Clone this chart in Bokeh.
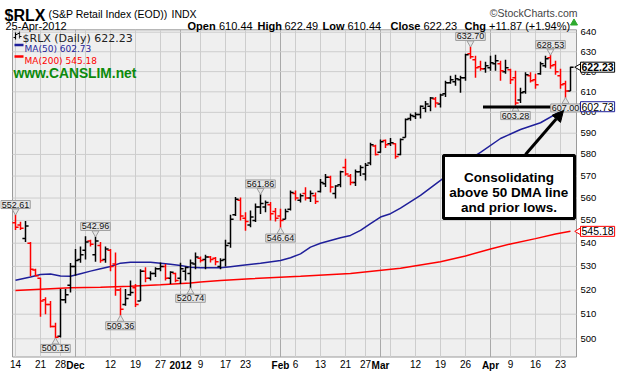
import math
from bokeh.plotting import figure
from bokeh.models import (ColumnDataSource, FixedTicker, Range1d, Label, LinearAxis,
                          Arrow, NormalHead, PrintfTickFormatter)
from bokeh.embed import file_html
from bokeh.resources import INLINE

# ---------------- data ----------------
nov = [14, 15, 16, 17, 18, 21, 22, 23, 25, 28, 29, 30]
dec = [1, 2, 5, 6, 7, 8, 9, 12, 13, 14, 15, 16, 19, 20, 21, 22, 23, 27, 28, 29, 30]
jan = [3, 4, 5, 6, 9, 10, 11, 12, 13, 17, 18, 19, 20, 23, 24, 25, 26, 27, 30, 31]
feb = [1, 2, 3, 6, 7, 8, 9, 10, 13, 14, 15, 16, 17, 21, 22, 23, 24, 27, 28, 29]
mar = [1, 2, 5, 6, 7, 8, 9, 12, 13, 14, 15, 16, 19, 20, 21, 22, 23, 26, 27, 28, 29, 30]
apr = [2, 3, 4, 5, 9, 10, 11, 12, 13, 16, 17, 18, 19, 20, 23, 24, 25]
dates = (["2011-11-%02d" % d for d in nov] + ["2011-12-%02d" % d for d in dec] +
         ["2012-01-%02d" % d for d in jan] + ["2012-02-%02d" % d for d in feb] +
         ["2012-03-%02d" % d for d in mar] + ["2012-04-%02d" % d for d in apr])

opens = [549, 548, 542, 540, 528.5, 525, 516, 514, 505, 501,
         516, 522, 530, 533, 537, 541, 535, 539, 533, 537,
         531, 520, 514, 518, 521, 515.5, 528, 525, 527, 529,
         530, 525, 527, 525, 528, 527, 531, 533.5, 533, 534,
         533.5, 530, 533, 540, 552.5, 559, 551, 548, 550, 556,
         556, 557, 554, 552, 550.5, 555, 562, 559, 562, 560,
         561, 563, 566.5, 569.5, 562, 566, 574, 570, 567, 572,
         571, 576, 584, 581, 586.5, 585, 585, 580, 588, 597,
         598, 599, 602, 603, 606.5, 604, 609, 614.5, 615, 616,
         617, 629, 626, 622.5, 621.5, 622, 624, 624, 620, 621,
         617, 606, 610, 618, 616, 619, 623, 627, 623.5, 618,
         614, 610.44]
highs = [552.61, 549.4, 549.8, 540.5, 529, 525.2, 517, 515.4, 506.5, 520.5,
         520.5, 531.5, 537.5, 538.6, 543, 541.5, 542.96, 540.5, 538.6, 537.5,
         536, 521, 520.5, 524, 522.6, 528.8, 529.6, 528, 529.6, 531.7,
         531, 528, 527.3, 531.6, 530, 533, 536, 534.3, 535, 534.5,
         534, 533.5, 541.5, 552.5, 560.5, 560.2, 553.6, 554.4, 557.5, 561.86,
         558.9, 558.2, 555.5, 555.2, 555.2, 563.4, 563.4, 562, 564.9, 563.4,
         562.5, 568.6, 570.9, 570.2, 565.8, 572.5, 578, 570.9, 573, 575,
         576, 585.5, 584.5, 587, 587, 587.7, 585.3, 587.5, 597, 599.5,
         600, 603.3, 605.5, 607.5, 607.5, 609, 615.5, 618, 618.5, 618,
         629, 632.70, 628, 625.5, 625, 628, 628.5, 625.5, 626, 621.5,
         620.5, 612, 619.7, 619.7, 619, 625, 628, 628.53, 625.5, 621.5,
         615.5, 622.49]
lows = [545.8, 545.8, 540.5, 525.8, 525.8, 509, 510, 504.6, 500.15, 500.5,
        514.5, 519, 526, 531.6, 533, 538.6, 532, 531.6, 531.6, 528,
        517.6, 509.36, 513.5, 517.6, 513, 515.5, 523.3, 524, 525.5, 528,
        524, 522.6, 523.3, 522.6, 524, 520.74, 528.8, 531.7, 528.8, 531.7,
        530.5, 528.8, 530, 538, 552, 550, 545.5, 547, 549.3, 552.9,
        553.6, 550, 549.5, 546.64, 550.5, 554.4, 558.9, 558, 558.9, 558.2,
        557.3, 562.5, 565, 562.5, 559.8, 564.9, 570.2, 565.8, 565.5, 570,
        568, 575, 579.5, 580.8, 583, 584, 578, 579.6, 588, 596,
        596.8, 597, 600, 600.5, 602.3, 602.4, 607.5, 614, 613, 609.5,
        615.5, 626.5, 617, 620.5, 619.5, 620.5, 620.5, 615.5, 619, 613.9,
        603.28, 604.5, 609, 614.6, 611.5, 618.5, 622, 621.5, 618.5, 611.5,
        607.0, 610.44]
closes = [547, 546.5, 547.5, 528.8, 526, 515.5, 514, 505, 500.6, 516,
          518, 530, 532.5, 535, 540.5, 539.5, 541, 532.5, 537.5, 530,
          520, 512, 516.5, 519, 514, 528, 525, 527, 529, 530,
          525, 527.5, 524, 529, 529.5, 531.5, 534, 532.5, 534, 533,
          532, 532.5, 539, 550.5, 559.5, 552, 549.5, 551.5, 556, 557.5,
          558, 553, 551, 550, 554, 562.5, 560, 561, 560, 562,
          558.5, 567, 569.5, 565, 565.5, 572, 571, 567, 572, 574,
          575, 584.5, 580, 586, 584.5, 585.5, 579, 587, 596.5, 598.5,
          599, 603, 604, 607, 604.5, 608.5, 614.5, 616, 616.5, 617,
          628.5, 627.5, 622, 621.5, 623, 624.5, 625.5, 620.5, 622, 616,
          604.5, 609.5, 618.5, 615.5, 613.5, 624, 626.5, 623, 620, 613.5,
          610.36, 622.23]

ma50_dates = ["2011-11-14", "2011-11-17", "2011-11-21", "2011-11-23", "2011-11-28", "2011-11-30",
              "2011-12-02", "2011-12-06", "2011-12-08", "2011-12-12", "2011-12-14", "2011-12-16",
              "2011-12-20", "2011-12-22", "2011-12-27", "2011-12-29", "2012-01-03", "2012-01-05",
              "2012-01-09", "2012-01-11", "2012-01-13", "2012-01-18", "2012-01-20", "2012-01-26",
              "2012-02-01", "2012-02-03", "2012-02-07", "2012-02-09", "2012-02-13", "2012-02-15",
              "2012-02-17", "2012-02-22", "2012-02-24", "2012-02-28", "2012-03-01", "2012-03-05",
              "2012-03-07", "2012-03-13", "2012-03-19", "2012-03-23", "2012-03-29", "2012-04-04",
              "2012-04-11", "2012-04-17", "2012-04-23", "2012-04-25"]
ma50_vals = [524.1, 525.5, 526.6, 526.8, 525.9, 525.8, 526.9, 528, 529, 530, 531.4, 531.8,
             531.8, 531.8, 531.4, 530.9, 530.4, 529.7, 529.4, 529.4, 529.4, 529.9, 530.4, 531.4,
             532.5, 533.7, 535.4, 538.3, 540, 541.2, 542.4, 543.4, 545.6, 548.6, 551.5, 553,
             555.5, 561.2, 568, 575, 581, 587.5, 591.8, 595, 600.5, 602.73]
ma200_dates = ["2011-11-14", "2011-11-21", "2011-11-30", "2011-12-08", "2011-12-16", "2011-12-27",
               "2012-01-05", "2012-01-09", "2012-01-13", "2012-01-24", "2012-02-07", "2012-02-22",
               "2012-03-07", "2012-03-19", "2012-03-26", "2012-04-02", "2012-04-09", "2012-04-16",
               "2012-04-20", "2012-04-25"]
ma200_vals = [519.8, 520.4, 521, 521.2, 521.6, 522.2, 523, 523.4, 524, 524.8, 525.8, 527,
              529.2, 532, 534.5, 537.5, 539.7, 542, 544, 545.18]

y_ticks = [500, 510, 520, 530, 540, 550, 560, 570, 580, 590, 600, 610, 620, 630, 640]
tick_dates = ["2011-11-14", "2011-11-21", "2011-11-28", "2011-12-12", "2011-12-19", "2011-12-27",
              "2012-01-09", "2012-01-17", "2012-01-23", "2012-02-06", "2012-02-13", "2012-02-21",
              "2012-02-27", "2012-03-12", "2012-03-19", "2012-03-26", "2012-04-09", "2012-04-16",
              "2012-04-23"]
tick_labels = ["14", "21", "28", "12", "19", "27", "9", "17", "23", "6", "13", "21", "27",
               "12", "19", "26", "9", "16", "23"]
month_dates = ["2011-12-01", "2012-01-03", "2012-02-01", "2012-03-01", "2012-04-02"]
month_labels = ["Dec", "2012", "Feb", "Mar", "Apr"]
extra_grid_dates = ["2011-12-05", "2012-01-30", "2012-03-05"]

callout_dates = ["2011-11-14", "2011-12-07", "2011-11-25", "2011-12-14", "2012-01-05",
                 "2012-01-26", "2012-02-01", "2012-03-27", "2012-04-19", "2012-04-10", "2012-04-24"]
callout_vals = [552.61, 542.96, 500.15, 509.36, 520.74, 561.86, 546.64, 632.70, 628.53, 603.28, 607.00]
callout_above = [True, True, False, False, False, True, False, True, True, False, False]

last_close, last_ma50, last_ma200 = 622.23, 602.73, 545.18
support_level = 602.6
support_from = "2012-03-29"
note_lines = ["Consolidating", "above 50 DMA line", "and prior lows."]

# ---------------- geometry helpers (canvas pixel -> data) ----------------
pos = {d: i for i, d in enumerate(dates)}
n = len(dates)


def X(px):
    return (px - 15.0) / 5.0


def Y(py):
    return 640.0 * math.exp(-(py - 31.7) / 1242.0)


LEFT, RIGHT, TOP, BOTTOM = X(12), X(576), Y(29.3), Y(356.5)
RED, BLACK, BLUE = "#ff0000", "#000000", "#1f1f9a"

colors = [RED] + [BLACK if closes[i] > closes[i - 1] else RED for i in range(1, n)]
xs = list(range(n))
src = ColumnDataSource(dict(x=xs, xl=[i - 0.62 for i in xs], xr=[i + 0.62 for i in xs],
                            o=opens, h=highs, l=lows, c=closes, col=colors))

p = figure(width=623, height=374, output_backend="svg", toolbar_location=None,
           y_axis_type="log", y_axis_location="right",
           x_range=Range1d(X(0), X(623)), y_range=Range1d(Y(374), Y(0)),
           min_border=0, min_border_left=0, min_border_right=0, min_border_top=0,
           min_border_bottom=0)
p.background_fill_color = "white"
p.border_fill_color = "white"
p.outline_line_color = None
p.grid.visible = False

# plot panel
p.quad(left=[LEFT], right=[RIGHT], bottom=[BOTTOM], top=[TOP],
       fill_color="#efefef", line_color="#9a9a9a", line_width=1)

# grid
grid_idx = sorted(pos[d] for d in tick_dates + extra_grid_dates)
p.segment(x0=grid_idx, y0=[BOTTOM] * len(grid_idx), x1=grid_idx, y1=[TOP] * len(grid_idx),
          line_color="#cdcdcd", line_width=1)
month_idx = [pos[d] for d in month_dates]
p.segment(x0=month_idx, y0=[BOTTOM] * len(month_idx), x1=month_idx, y1=[TOP] * len(month_idx),
          line_color="#a9a9a9", line_width=1)
p.segment(x0=[LEFT] * len(y_ticks), y0=y_ticks, x1=[RIGHT] * len(y_ticks), y1=y_ticks,
          line_color="#cdcdcd", line_width=1)


def style_axis(ax, size, standoff):
    ax.axis_line_color = None
    ax.major_tick_line_color = None
    ax.minor_tick_line_color = None
    ax.major_tick_out = 0
    ax.major_tick_in = 0
    ax.minor_tick_out = 0
    ax.minor_tick_in = 0
    ax.major_label_standoff = standoff
    ax.major_label_text_font = "Liberation Sans"
    ax.major_label_text_font_size = size
    ax.major_label_text_color = "#000000"


# axes drawn at the panel edges
ya = p.yaxis[0]
ya.fixed_location = RIGHT
ya.ticker = FixedTicker(ticks=y_ticks)
ya.formatter = PrintfTickFormatter(format="%d")
style_axis(ya, "9.5px", 4)

xa = p.xaxis[0]
xa.fixed_location = BOTTOM
xa.ticker = FixedTicker(ticks=[pos[d] for d in tick_dates])
xa.major_label_overrides = {pos[d]: t for d, t in zip(tick_dates, tick_labels)}
style_axis(xa, "10px", 3)

ma = LinearAxis(fixed_location=BOTTOM, ticker=FixedTicker(ticks=month_idx),
                major_label_overrides={pos[d]: t for d, t in zip(month_dates, month_labels)})
style_axis(ma, "10px", 3)
ma.major_label_text_font_style = "bold"
p.add_layout(ma, "below")

# moving averages
p.line([pos[d] for d in ma200_dates], ma200_vals, line_color=RED, line_width=1.5)
p.line([pos[d] for d in ma50_dates], ma50_vals, line_color=BLUE, line_width=1.5)

# OHLC bars
p.segment(x0="x", y0="l", x1="x", y1="h", line_color="col", line_width=1.5, source=src)
p.segment(x0="xl", y0="o", x1="x", y1="o", line_color="col", line_width=1.5, source=src)
p.segment(x0="x", y0="c", x1="xr", y1="c", line_color="col", line_width=1.5, source=src)

# price call-outs with small pointers
up_x, up_y, dn_x, dn_y = [], [], [], []
for d, v, up in zip(callout_dates, callout_vals, callout_above):
    i = pos[d]
    if up:
        up_x.append(i)
        up_y.append(highs[i] * math.exp(3.5 / 1242.0))
    else:
        dn_x.append(i)
        dn_y.append(lows[i] * math.exp(-3.5 / 1242.0))
    p.add_layout(Label(x=i, y=highs[i] if up else lows[i], text="%.2f" % v, text_align="center",
                       text_baseline="bottom" if up else "top", y_offset=6 if up else -6,
                       text_font="Liberation Sans", text_font_size="9px", text_color="#111111",
                       background_fill_color="#e6e6e6", border_line_color="#9c9c9c",
                       padding=1))
p.scatter(up_x, up_y, marker="inverted_triangle", size=7, fill_color="#e6e6e6", line_color="#9c9c9c")
p.scatter(dn_x, dn_y, marker="triangle", size=7, fill_color="#e6e6e6", line_color="#9c9c9c")

# support line, arrow and note
p.segment(x0=[pos[support_from] + 0.5], y0=[support_level], x1=[RIGHT], y1=[support_level],
          line_color="black", line_width=3)
p.quad(left=[X(443)], right=[X(574)], top=[Y(155)], bottom=[Y(218)],
       fill_color="white", line_color="black", line_width=3)
p.add_layout(Arrow(end=NormalHead(size=11, fill_color="black", line_color="black"),
                   x_start=X(525), y_start=Y(154), x_end=X(563), y_end=Y(110),
                   line_color="black", line_width=3))
for t, py in zip(note_lines, [176.5, 191.5, 207]):
    p.add_layout(Label(x=X(508.5), y=Y(py), text=t, text_align="center", text_baseline="alphabetic",
                       text_font="Liberation Sans", text_font_style="bold", text_font_size="13.5px",
                       text_color="black"))

# right-hand value tags
for v, col, bold in [(last_close, "black", True), (last_ma50, BLUE, False), (last_ma200, RED, False)]:
    p.scatter([X(580)], [v], marker="triangle", angle=math.pi / 2, size=10,
              fill_color="white", line_color=col)
    p.add_layout(Label(x=X(580), y=v, text="%.2f" % v, text_align="left", text_baseline="middle",
                       text_font="Liberation Sans", text_font_size="10.5px",
                       text_font_style="bold" if bold else "normal", text_color="black",
                       background_fill_color="white", border_line_color=col, padding=1))

# legend inside the panel (small bar icon, labels)
p.segment(x0=[X(15), X(19)], y0=[Y(39), Y(38)], x1=[X(15), X(19)], y1=[Y(32), Y(31)],
          line_color=[BLACK, "#444444"], line_width=1.2)
p.segment(x0=[X(13), X(15), X(17), X(19)], y0=[Y(37), Y(34), Y(33), Y(36)],
          x1=[X(15), X(17), X(19), X(21)], y1=[Y(37), Y(34), Y(33), Y(36)],
          line_color=BLACK, line_width=1.2)
p.add_layout(Label(x=X(22), y=Y(37.5), text="$RLX (Daily) 622.23", text_font="DejaVu Sans",
                   text_font_size="11px", text_color="#222222", text_baseline="alphabetic"))
p.segment(x0=[X(14), X(14)], y0=[Y(44.5), Y(56)], x1=[X(23), X(23)], y1=[Y(44.5), Y(56)],
          line_color=[BLUE, RED], line_width=2.5)
p.add_layout(Label(x=X(24), y=Y(48.5), text="MA(50) 602.73", text_font="DejaVu Sans",
                   text_font_size="9px", text_color=BLUE, text_baseline="alphabetic"))
p.add_layout(Label(x=X(24), y=Y(60), text="MA(200) 545.18", text_font="DejaVu Sans",
                   text_font_size="9px", text_color=RED, text_baseline="alphabetic"))
p.add_layout(Label(x=X(13), y=Y(73), text="www.CANSLIM.net", text_font="Liberation Sans",
                   text_font_style="bold", text_font_size="13.8px", text_color="#0b8a0b",
                   text_baseline="alphabetic"))

# header
hdr = [("$RLX", 4, 14.5, "16px", "bold", "#000000", "left"),
       ("(S&P Retail Index (EOD))", 48, 13, "10.5px", "normal", "#000000", "left"),
       ("INDX", 171, 13, "10.5px", "normal", "#000000", "left"),
       ("\u00a9StockCharts.com", 577, 12.5, "10.5px", "normal", "#444444", "right"),
       ("25-Apr-2012", 5, 25.5, "11px", "normal", "#000000", "left"),
       ("Open", 187, 25.5, "11px", "bold", "#000000", "left"),
       ("610.44", 218.5, 25.5, "11px", "normal", "#000000", "left"),
       ("High", 257, 25.5, "11px", "bold", "#000000", "left"),
       ("622.49", 284, 25.5, "11px", "normal", "#000000", "left"),
       ("Low", 322, 25.5, "11px", "bold", "#000000", "left"),
       ("610.44", 347, 25.5, "11px", "normal", "#000000", "left"),
       ("Close", 390, 25.5, "11px", "bold", "#000000", "left"),
       ("622.23", 423, 25.5, "11px", "normal", "#000000", "left"),
       ("Chg", 464, 25.5, "11px", "bold", "#000000", "left"),
       ("+11.87 (+1.94%)", 488.5, 25.5, "11px", "normal", "#000000", "left")]
for t, px, py, fs, fw, col, al in hdr:
    p.add_layout(Label(x=X(px), y=Y(py), text=t, text_font="Liberation Sans", text_font_size=fs,
                       text_font_style=fw, text_color=col, text_align=al, text_baseline="alphabetic"))
p.scatter([X(573.5)], [Y(22.5)], marker="triangle", size=7, fill_color="#2eaa2e", line_color="#2eaa2e")

open("out.html", "w").write(file_html(p, INLINE))
